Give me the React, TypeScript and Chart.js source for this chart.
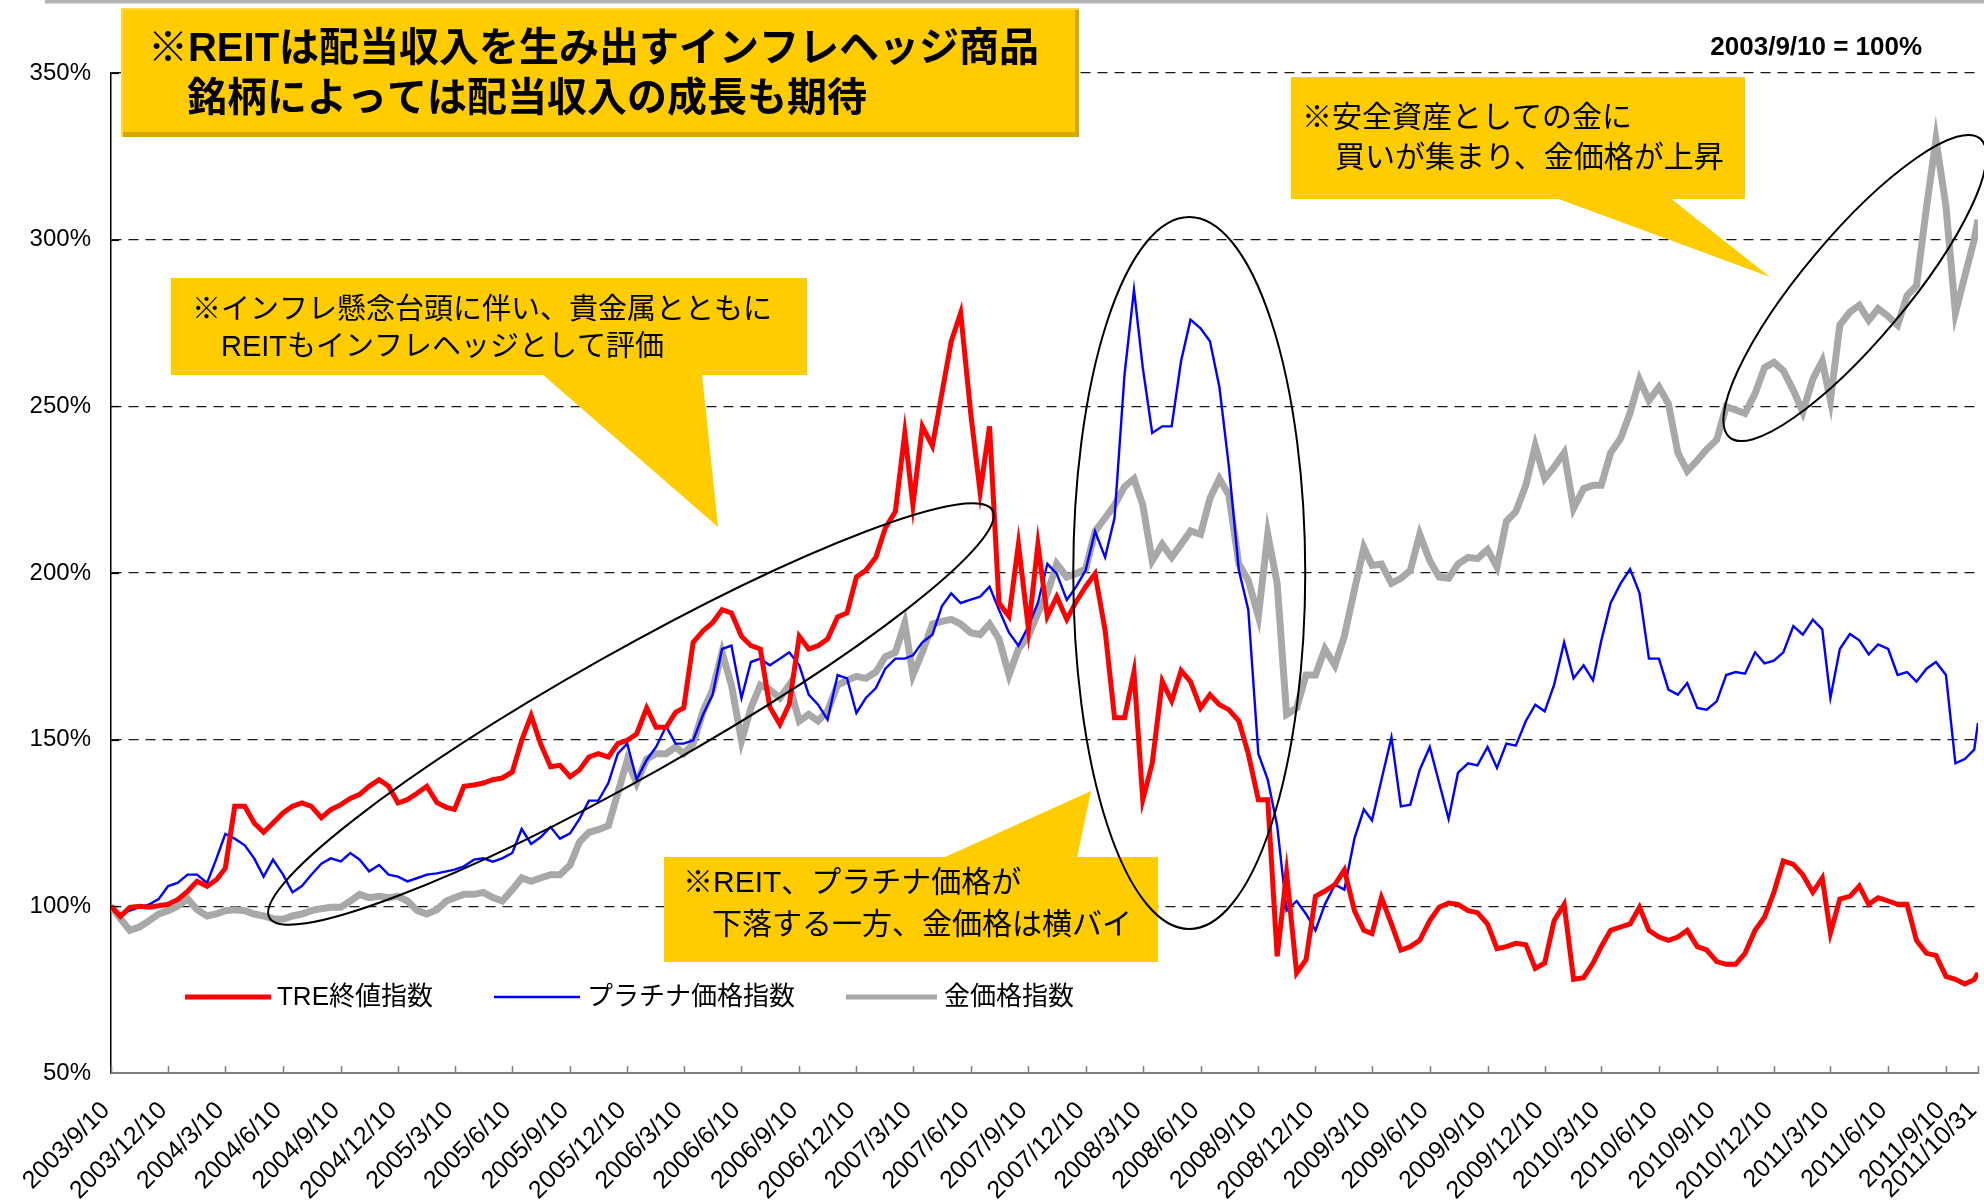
import React, { useEffect, useRef } from "react";
import { Chart, registerables } from "chart.js";

Chart.register(...registerables);

// ---------- DATA ----------
const sampleDates: string[] = [
  "2003/9/10", "2003/9/25", "2003/10/10", "2003/10/25", "2003/11/10", "2003/11/25", "2003/12/10", "2003/12/25",
  "2004/1/10", "2004/1/25", "2004/2/10", "2004/2/25", "2004/3/10", "2004/3/25", "2004/4/10", "2004/4/25", "2004/5/10", "2004/5/25", "2004/6/10", "2004/6/25",
  "2004/7/10", "2004/7/25", "2004/8/10", "2004/8/25", "2004/9/10", "2004/9/25", "2004/10/10", "2004/10/25", "2004/11/10", "2004/11/25", "2004/12/10", "2004/12/25",
  "2005/1/10", "2005/1/25", "2005/2/10", "2005/2/25", "2005/3/10", "2005/3/25", "2005/4/10", "2005/4/25", "2005/5/10", "2005/5/25", "2005/6/10", "2005/6/25",
  "2005/7/10", "2005/7/25", "2005/8/10", "2005/8/25", "2005/9/10", "2005/9/25", "2005/10/10", "2005/10/25", "2005/11/10", "2005/11/25", "2005/12/10", "2005/12/25",
  "2006/1/10", "2006/1/25", "2006/2/10", "2006/2/25", "2006/3/10", "2006/3/25", "2006/4/10", "2006/4/25", "2006/5/10", "2006/5/25", "2006/6/10", "2006/6/25",
  "2006/7/10", "2006/7/25", "2006/8/10", "2006/8/25", "2006/9/10", "2006/9/25", "2006/10/10", "2006/10/25", "2006/11/10", "2006/11/25", "2006/12/10", "2006/12/25",
  "2007/1/10", "2007/1/25", "2007/2/10", "2007/2/25", "2007/3/10", "2007/3/25", "2007/4/10", "2007/4/25", "2007/5/10", "2007/5/25", "2007/6/10", "2007/6/25",
  "2007/7/10", "2007/7/25", "2007/8/10", "2007/8/25", "2007/9/10", "2007/9/25", "2007/10/10", "2007/10/25", "2007/11/10", "2007/11/25", "2007/12/10", "2007/12/25",
  "2008/1/10", "2008/1/25", "2008/2/10", "2008/2/25", "2008/3/10", "2008/3/25", "2008/4/10", "2008/4/25", "2008/5/10", "2008/5/25", "2008/6/10", "2008/6/25",
  "2008/7/10", "2008/7/25", "2008/8/10", "2008/8/25", "2008/9/10", "2008/9/25", "2008/10/10", "2008/10/25", "2008/11/10", "2008/11/25", "2008/12/10", "2008/12/25",
  "2009/1/10", "2009/1/25", "2009/2/10", "2009/2/25", "2009/3/10", "2009/3/25", "2009/4/10", "2009/4/25", "2009/5/10", "2009/5/25", "2009/6/10", "2009/6/25",
  "2009/7/10", "2009/7/25", "2009/8/10", "2009/8/25", "2009/9/10", "2009/9/25", "2009/10/10", "2009/10/25", "2009/11/10", "2009/11/25", "2009/12/10", "2009/12/25",
  "2010/1/10", "2010/1/25", "2010/2/10", "2010/2/25", "2010/3/10", "2010/3/25", "2010/4/10", "2010/4/25", "2010/5/10", "2010/5/25", "2010/6/10", "2010/6/25",
  "2010/7/10", "2010/7/25", "2010/8/10", "2010/8/25", "2010/9/10", "2010/9/25", "2010/10/10", "2010/10/25", "2010/11/10", "2010/11/25", "2010/12/10", "2010/12/25",
  "2011/1/10", "2011/1/25", "2011/2/10", "2011/2/25", "2011/3/10", "2011/3/25", "2011/4/10", "2011/4/25", "2011/5/10", "2011/5/25", "2011/6/10", "2011/6/25",
  "2011/7/10", "2011/7/25", "2011/8/10", "2011/8/25", "2011/9/10", "2011/9/25", "2011/10/10", "2011/10/25", "2011/10/31",
];

const treIndex: number[] = [
  100, 97, 99.7, 100, 99.7, 100.2, 100.6, 102,
  104.5, 107.5, 106, 108, 111.4, 130, 130, 125, 122.2, 125, 128, 130, 131, 130, 126.6, 129, 130.5, 132.4, 133.6, 136, 138, 136, 131, 132,
  134, 136, 131.1, 129.7, 129.1, 136, 136.4, 137, 138, 138.5, 140.3, 149.8, 157.2, 148.8, 141.9, 142.3, 138.9, 140.9, 144.8, 145.8, 144.8, 148.8, 149.8, 151.7,
  159.5, 153.7, 153.7, 158.2, 159.5, 179.2, 182.7, 185.1, 189, 188, 181, 178.2, 177.2, 159.8, 154.6, 160.6, 181, 177.2, 178.2, 180.2, 186.8, 188, 198.8, 200.8,
  204.7, 213.5, 218.4, 242, 220.4, 244, 238.1, 253.8, 269.5, 278, 247.9, 224.3, 244, 191, 187, 208.6, 183.1, 208.6, 187, 192.9, 186.1, 191.4, 195.9, 199.8,
  182.8, 156.6, 156.6, 170.3, 132, 142.9, 167.5, 161.6, 170.7, 167.4, 159.5, 163.5, 160.5, 159, 155.6, 145.8, 132, 132, 85, 110, 80, 84, 103, 104.6,
  106.5, 110.9, 98.7, 92.8, 91.8, 102.6, 94.7, 86.9, 87.9, 89.8, 95.7, 99.7, 101, 100.6, 98.7, 98.1, 94.7, 87.3, 87.9, 88.9, 88.5, 81.4, 83, 95.7,
  100.6, 78.1, 78.6, 83, 87.9, 92.8, 93.8, 94.7, 99.7, 92.8, 90.8, 89.8, 90.8, 92.8, 87.9, 86.9, 83.4, 82.6, 82.6, 85.9, 92.8, 96.7, 104.2, 113.6,
  112.6, 109.5, 104.2, 108.5, 92, 102.2, 103, 106.1, 100.6, 102.6, 101.6, 100.6, 100.6, 89.8, 85.9, 85.3, 79, 78.1, 76.7, 78, 80,
];

const platinumIndex: number[] = [
  100, 97.7, 98.7, 99.7, 100.6, 102.2, 106.1, 107,
  109.5, 109.5, 107, 114.4, 121.7, 120.3, 118.3, 114.4, 108.9, 114, 109.5, 104.2, 106.1, 109.5, 112.8, 114.4, 113.5, 116, 114, 110.5, 112.4, 109.5, 108.9, 107.5,
  108.5, 109.5, 109.9, 110.5, 111, 112, 114, 114.4, 113.4, 114.4, 116, 123.2, 118.7, 120.7, 123.8, 120.3, 121.9, 126.2, 131.7, 131.7, 137, 145.8, 148.8, 138,
  143.9, 147.8, 154, 148.8, 148.8, 149.8, 157.6, 163.5, 177.2, 178.2, 162.5, 173.3, 174.3, 172.3, 174.3, 176.2, 172.3, 163.5, 160.5, 156, 169.4, 168.4, 158, 162.5,
  165.5, 171.3, 174.3, 174.3, 175.3, 179.2, 181.5, 190, 193.9, 191, 192, 192.9, 195.9, 189, 182.1, 178.2, 184.1, 191, 202.7, 199.8, 191.9, 195.9, 200.8, 212.5,
  204.7, 216.5, 259.7, 285, 261.6, 242, 244, 244, 263.6, 276, 273.4, 269.5, 255.8, 232.2, 200.8, 189, 145.8, 138, 124.2, 98.7, 101.6, 97.7, 92.8, 100.6,
  106.5, 105, 120.3, 129.1, 125.8, 137.9, 150.7, 130, 130.5, 140.9, 147.8, 137, 126.2, 140.1, 142.9, 142.3, 147.8, 141.5, 148.8, 148.2, 155.6, 160.5, 158.5, 166.4,
  179.2, 168.4, 172.3, 167.8, 179.6, 191, 196.9, 201.2, 194, 174.3, 174.3, 165, 163.5, 167, 159.5, 159, 161.5, 169.4, 170.3, 169.8, 176.2, 172.9, 173.7, 176.2,
  184.1, 181.5, 186, 183.1, 162.5, 177.2, 181.7, 179.8, 175.6, 178.6, 177.2, 169.4, 170.3, 167.4, 171.3, 173.3, 169.4, 142.9, 144.2, 147, 155,
];

const goldIndex: number[] = [
  100, 96.3, 92.8, 93.8, 95.7, 97.7, 98.7, 100,
  102.2, 99, 97.1, 97.7, 98.7, 99, 98.7, 97.7, 97.1, 96.3, 96.1, 97.1, 97.7, 98.7, 99.3, 99.7, 99.7, 101.6, 103.6, 102.6, 103, 102.6, 103, 101.6,
  98.7, 97.7, 99, 101.6, 102.6, 103.6, 103.6, 104.2, 102.6, 101.6, 105, 108.5, 107.5, 108.5, 109.5, 109.5, 112.4, 119.3, 122.2, 123, 124.2, 134, 143.8, 137,
  144.2, 145.8, 145.8, 147.8, 145.8, 148.8, 158.6, 165, 176.2, 166.4, 149.7, 159.5, 166.4, 165, 162.5, 166.4, 155.6, 157.6, 155.6, 158.6, 166.4, 167.8, 169, 168.4,
  170.3, 174.9, 176.2, 184.9, 169.4, 176.2, 184.7, 185.5, 186.1, 184.7, 182.1, 181.5, 184.7, 180.2, 169.4, 177.2, 181.1, 188, 193.9, 202.7, 198.8, 199.8, 201.2, 212.5,
  216.5, 220.4, 225.9, 228.3, 220.4, 203.7, 208.6, 204.7, 208.6, 212.6, 211.6, 222.4, 228.3, 223.4, 202.7, 197.8, 187, 211.6, 196.9, 157.6, 159.5, 169.4, 169.4, 177.2,
  172.3, 181.1, 194.9, 207.6, 202.3, 202.7, 196.9, 198.4, 200.8, 211.6, 203.7, 198.8, 198.4, 202.7, 204.7, 204.3, 207, 201.8, 215.5, 218.4, 226.3, 238.1, 228.3, 231.8,
  236.1, 219.4, 225.3, 226.3, 226.3, 236.1, 240.4, 248, 258, 251.8, 255.8, 250.8, 236.1, 230.6, 233.8, 237.1, 240, 249.9, 248.9, 247.9, 253.8, 261.6, 263.2, 260.7,
  254.8, 248.3, 258.2, 263.6, 251.8, 274.4, 278.3, 280.3, 275.8, 279.3, 277, 274.4, 283.2, 286.2, 309.7, 330, 310, 278, 289.1, 300, 306,
];

const tickLabels: string[] = [
  "2003/9/10", "2003/12/10", "2004/3/10", "2004/6/10", "2004/9/10", "2004/12/10", "2005/3/10", "2005/6/10", "2005/9/10",
  "2005/12/10", "2006/3/10", "2006/6/10", "2006/9/10", "2006/12/10", "2007/3/10", "2007/6/10", "2007/9/10", "2007/12/10",
  "2008/3/10", "2008/6/10", "2008/9/10", "2008/12/10", "2009/3/10", "2009/6/10", "2009/9/10", "2009/12/10", "2010/3/10",
  "2010/6/10", "2010/9/10", "2010/12/10", "2011/3/10", "2011/6/10", "2011/9/10", "2011/10/31",
];

const seriesLabels = ["TRE終値指数", "プラチナ価格指数", "金価格指数"];
const baseNote = "2003/9/10 = 100%";

// ---------- ANNOTATION LAYOUT (data coords: days since 2003/9/10, percent) ----------
const ellipseMarks = [
  { day: 828, pct: 157.7, rx: 415, ry: 62, rot: -29.4 },
  { day: 1717, pct: 200, rx: 116, ry: 356, rot: 0 },
  { day: 2777, pct: 285.5, rx: 195, ry: 52, rot: -50 },
];

const callouts = [
  {
    d1: 95.5, p1: 288.5, d2: 1108.3, p2: 259.4,
    edge: "bottom", base: [686.3, 941.1], apex: [966.6, 213.8],
    lines: ["※インフレ懸念台頭に伴い、貴金属とともに", "REITもインフレヘッジとして評価"],
    size: 29, offX: [21, 50], offY: [33, 70],
  },
  {
    d1: 880.6, p1: 114.8, d2: 1667.2, p2: 83.3,
    edge: "top", base: [1324.9, 1538.3], apex: [1560.6, 134.6],
    lines: ["※REIT、プラチナ価格が", "下落する一方、金価格は横バイ"],
    size: 30, offX: [19, 48], offY: [27, 69],
  },
  {
    d1: 1879, p1: 348.8, d2: 2602, p2: 312.2,
    edge: "bottom", base: [2301, 2482.6], apex: [2641.8, 288.8],
    lines: ["※安全資産としての金に", "買いが集まり、金価格が上昇"],
    size: 30, offX: [11, 44], offY: [42, 82],
  },
];

const headline = {
  d1: 15.9, p1: 369.5, d2: 1541.4, p2: 330.8,
  lines: ["※REITは配当収入を生み出すインフレヘッジ商品", "銘柄によっては配当収入の成長も期待"],
  size: 40, offX: [27, 66], offY: [42, 92],
};

const noteAnchor = { day: 2884, pct: 357.5 };
const legendItems = [
  { x1: 117.8, x2: 254.8, tx: 264.3 },
  { x1: 609.9, x2: 746.8, tx: 758 },
  { x1: 1170.4, x2: 1315.3, tx: 1326.5 },
];
const legendPct = 72.8;

const FONT = 'Arial, "Liberation Sans", "Noto Sans CJK JP", sans-serif';
const YELLOW = "#FFCC00";

function dayOf(s: string): number {
  const [y, m, d] = s.split("/").map(Number);
  return (Date.UTC(y, m - 1, d) - Date.UTC(2003, 8, 10)) / 86400000;
}

const overlayPlugin = {
  id: "overlay",
  afterDatasetsDraw(chart: any) {
    const { ctx, chartArea: area } = chart;
    const xs = chart.scales.x;
    const ys = chart.scales.y;
    const X = (d: number) => xs.getPixelForValue(d);
    const Y = (p: number) => ys.getPixelForValue(p);
    ctx.save();

    // inside tick marks
    ctx.strokeStyle = "#7F7F7F";
    ctx.lineWidth = 1.5;
    xs.ticks.forEach((t: any) => {
      const px = Math.round(X(t.value)) + 0.5;
      ctx.beginPath();
      ctx.moveTo(px, area.bottom);
      ctx.lineTo(px, area.bottom - 7);
      ctx.stroke();
    });
    ctx.strokeStyle = "#000";
    ctx.lineWidth = 1.2;
    ys.ticks.forEach((t: any) => {
      if (t.value === 50) return;
      const py = Math.round(Y(t.value)) + 0.5;
      ctx.beginPath();
      ctx.moveTo(area.left, py);
      ctx.lineTo(area.left + 8, py);
      ctx.stroke();
    });

    // top frame line
    ctx.strokeStyle = "#B4B4B4";
    ctx.lineWidth = 4;
    ctx.beginPath();
    ctx.moveTo(45, 1.5);
    ctx.lineTo(chart.width, 1.5);
    ctx.stroke();

    // headline box with bevel
    {
      const x1 = X(headline.d1), x2 = X(headline.d2), y1 = Y(headline.p1), y2 = Y(headline.p2);
      ctx.fillStyle = YELLOW;
      ctx.fillRect(x1, y1, x2 - x1, y2 - y1);
      ctx.fillStyle = "#D6A800";
      ctx.fillRect(x1, y2 - 5, x2 - x1, 5);
      ctx.fillRect(x2 - 4, y1, 4, y2 - y1);
      ctx.fillStyle = "#FFD84A";
      ctx.fillRect(x1, y1, x2 - x1, 2);
      ctx.fillRect(x1, y1, 2, y2 - y1);
      ctx.fillStyle = "#000";
      ctx.font = `bold ${headline.size}px ${FONT}`;
      ctx.textAlign = "left";
      ctx.textBaseline = "middle";
      headline.lines.forEach((l, i) => ctx.fillText(l, x1 + headline.offX[i], y1 + headline.offY[i]));
    }

    // callouts
    callouts.forEach((c) => {
      const x1 = X(c.d1), x2 = X(c.d2), y1 = Y(c.p1), y2 = Y(c.p2);
      ctx.fillStyle = YELLOW;
      ctx.fillRect(x1, y1, x2 - x1, y2 - y1);
      const ey = c.edge === "bottom" ? y2 : y1;
      const inset = c.edge === "bottom" ? -1 : 1;
      ctx.beginPath();
      ctx.moveTo(X(c.base[0]), ey + inset);
      ctx.lineTo(X(c.base[1]), ey + inset);
      ctx.lineTo(X(c.apex[0]), Y(c.apex[1]));
      ctx.closePath();
      ctx.fill();
      ctx.fillStyle = "#000";
      ctx.font = `${c.size}px ${FONT}`;
      ctx.textAlign = "left";
      ctx.textBaseline = "middle";
      c.lines.forEach((l, i) => ctx.fillText(l, x1 + c.offX[i], y1 + c.offY[i]));
    });

    // ellipses
    ctx.strokeStyle = "#000";
    ctx.lineWidth = 2;
    ellipseMarks.forEach((e) => {
      ctx.beginPath();
      ctx.ellipse(X(e.day), Y(e.pct), e.rx, e.ry, (e.rot * Math.PI) / 180, 0, Math.PI * 2);
      ctx.stroke();
    });

    // base note
    ctx.fillStyle = "#000";
    ctx.font = `bold 26px ${FONT}`;
    ctx.textAlign = "right";
    ctx.textBaseline = "middle";
    ctx.fillText(baseNote, X(noteAnchor.day), Y(noteAnchor.pct));

    // legend
    const ly = Y(legendPct);
    chart.data.datasets.forEach((ds: any, i: number) => {
      const it = legendItems[i];
      ctx.strokeStyle = ds.borderColor;
      ctx.lineWidth = i === 1 ? 2.5 : 5;
      ctx.beginPath();
      ctx.moveTo(X(it.x1), ly);
      ctx.lineTo(X(it.x2), ly);
      ctx.stroke();
      ctx.fillStyle = "#000";
      ctx.font = `26px ${FONT}`;
      ctx.textAlign = "left";
      ctx.textBaseline = "middle";
      ctx.fillText(ds.label, X(it.tx), ly + 1);
    });

    ctx.restore();
  },
};

export default function App() {
  const ref = useRef<HTMLCanvasElement | null>(null);

  useEffect(() => {
    if (!ref.current) return;
    const toPoints = (vals: number[]) => sampleDates.map((d, i) => ({ x: dayOf(d), y: vals[i] }));
    const tickDays = tickLabels.map(dayOf);
    const chart = new Chart(ref.current, {
      type: "line",
      data: {
        datasets: [
          { label: seriesLabels[0], data: toPoints(treIndex), borderColor: "#FF0000", borderWidth: 5, pointRadius: 0, tension: 0 },
          { label: seriesLabels[1], data: toPoints(platinumIndex), borderColor: "#0000FF", borderWidth: 2.4, pointRadius: 0, tension: 0 },
          { label: seriesLabels[2], data: toPoints(goldIndex), borderColor: "#A8A8A8", borderWidth: 7, pointRadius: 0, tension: 0 },
        ],
      },
      options: {
        responsive: false,
        animation: false,
        events: [],
        layout: { padding: { left: 0, right: 6, top: 73, bottom: 0 } },
        plugins: { legend: { display: false }, tooltip: { enabled: false }, title: { display: false } },
        scales: {
          x: {
            type: "linear",
            min: 0,
            max: tickDays[tickDays.length - 1],
            afterBuildTicks: (s: any) => {
              s.ticks = tickDays.map((v) => ({ value: v }));
            },
            afterFit: (s: any) => {
              s.height = 130;
              s.paddingLeft = 0;
              s.paddingRight = 0;
            },
            ticks: {
              autoSkip: false,
              minRotation: 45,
              maxRotation: 45,
              padding: 23,
              labelOffset: -5,
              color: "#000",
              font: { family: FONT, size: 25 },
              callback: (_v: any, i: number) => tickLabels[i],
            },
            grid: { display: false, drawTicks: false },
            border: { display: true, color: "#7F7F7F", width: 2 },
          },
          y: {
            min: 50,
            max: 350,
            afterFit: (s: any) => {
              s.width = 111;
              s.paddingTop = 0;
              s.paddingBottom = 0;
            },
            ticks: {
              stepSize: 50,
              padding: 20,
              color: "#000",
              font: { family: FONT, size: 24 },
              callback: (v: any) => `${v}%`,
            },
            grid: {
              drawTicks: false,
              lineWidth: 1.2,
              color: (c: any) => (c.tick && c.tick.value === 50 ? "rgba(0,0,0,0)" : "#1A1A1A"),
            },
            border: { display: true, color: "#000", width: 1.5, dash: [10, 7] },
          },
        },
      },
      plugins: [overlayPlugin],
    } as any);
    return () => chart.destroy();
  }, []);

  return (
    <div style={{ position: "fixed", left: 0, top: 0, width: 1984, height: 1203, background: "#fff" }}>
      <canvas ref={ref} width={1984} height={1203} style={{ display: "block", width: 1984, height: 1203 }} />
    </div>
  );
}
